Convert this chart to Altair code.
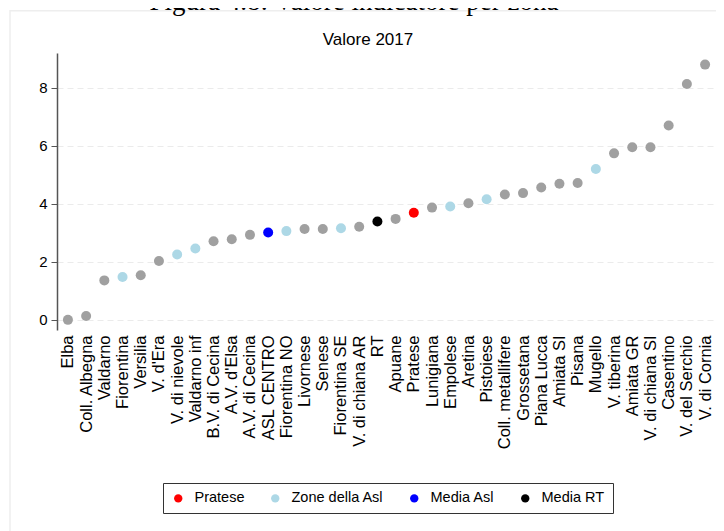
import altair as alt
import pandas as pd

zones = ["Elba", "Coll. Albegna", "Valdarno", "Fiorentina", "Versilia", "V. d'Era",
         "V. di nievole", "Valdarno inf", "B.V. di Cecina", "A.V. d'Elsa", "A.V. di Cecina",
         "ASL CENTRO", "Fiorentina NO", "Livornese", "Senese", "Fiorentina SE",
         "V. di chiana AR", "RT", "Apuane", "Pratese", "Lunigiana", "Empolese", "Aretina",
         "Pistoiese", "Coll. metallifere", "Grossetana", "Piana Lucca", "Amiata SI", "Pisana",
         "Mugello", "V. tiberina", "Amiata GR", "V. di chiana SI", "Casentino",
         "V. del Serchio", "V. di Cornia"]
values = [0.00, 0.13, 1.36, 1.48, 1.54, 2.03, 2.25, 2.46, 2.71, 2.78, 2.93,
          3.01, 3.06, 3.13, 3.13, 3.16, 3.21, 3.39, 3.48, 3.69, 3.87, 3.91, 4.02,
          4.16, 4.32, 4.37, 4.56, 4.69, 4.72, 5.20, 5.74, 5.95, 5.95, 6.70, 8.13, 8.80]
asl_zones = ["Fiorentina", "V. di nievole", "Valdarno inf", "Fiorentina NO",
             "Fiorentina SE", "Empolese", "Pistoiese", "Mugello"]

legend_labels = ["Pratese", "Zone della Asl", "Media Asl", "Media RT", "Altre"]
legend_colors = ["#ff0000", "#add8e6", "#0000ff", "#000000", "#a0a0a0"]

caption_text = ["Figura 4.8: Valore indicatore per zona"]
title_text = ["Valore 2017"]


def group_of(z):
    if z == "Pratese":
        return "Pratese"
    if z == "ASL CENTRO":
        return "Media Asl"
    if z == "RT":
        return "Media RT"
    if z in asl_zones:
        return "Zone della Asl"
    return "Altre"


df = pd.DataFrame({"zona": zones, "valore": values,
                   "gruppo": [group_of(z) for z in zones]})

FONT = "Liberation Sans"

points = alt.Chart(df).mark_circle(size=100, opacity=1).encode(
    x=alt.X("zona:N", sort=None,
            scale=alt.Scale(type="point", padding=0.6),
            axis=alt.Axis(title=None, labelAngle=-90, labelFont=FONT, labelFontSize=16.5,
                          labelColor="#000", domain=False, ticks=False, labelPadding=5,
                          grid=False, labelOverlap=False)),
    y=alt.Y("valore:Q",
            scale=alt.Scale(domain=[-0.35, 9.2], nice=False, zero=False),
            axis=alt.Axis(title=None, values=[0, 2, 4, 6, 8], labelFont=FONT,
                          labelFontSize=15, labelColor="#000", domainColor="#555",
                          domainWidth=1.5, tickColor="#555", tickSize=6, labelPadding=4,
                          grid=True, gridColor="#ebebeb", gridDash=[6, 4])),
    color=alt.Color("gruppo:N",
                    scale=alt.Scale(domain=legend_labels, range=legend_colors),
                    legend=alt.Legend(title=None, values=legend_labels[:4],
                                      orient="none", legendX=106, legendY=430,
                                      direction="horizontal", columns=4,
                                      symbolType="circle", symbolSize=70,
                                      labelFont=FONT, labelFontSize=14.5,
                                      labelColor="#000", labelOffset=9,
                                      columnPadding=23, strokeColor="#333",
                                      padding=8, cornerRadius=0)),
)

caption = alt.Chart(pd.DataFrame({"t": caption_text})).mark_text(
    font="Liberation Serif", fontSize=27, baseline="alphabetic", align="center", color="#000"
).encode(x=alt.value(297), y=alt.value(-43), text="t:N")

title = alt.Chart(pd.DataFrame({"t": title_text})).mark_text(
    font=FONT, fontSize=17, baseline="alphabetic", align="center", color="#000"
).encode(x=alt.value(311), y=alt.value(-8.5), text="t:N")

frame = alt.Chart(pd.DataFrame({"a": [0]})).mark_rect(
    fill=None, stroke="#eeeeee", strokeWidth=1.5
).encode(x=alt.value(-47), y=alt.value(-42.3), x2=alt.value(700), y2=alt.value(520))

chart = alt.layer(frame, points, caption, title).properties(
    width=659, height=277,
    autosize=alt.AutoSizeParams(type="none"),
    padding={"left": 49, "top": 45, "right": 0, "bottom": 201},
).configure_view(stroke=None)

chart.save("out.html", embed_options={"renderer": "svg", "actions": False})
